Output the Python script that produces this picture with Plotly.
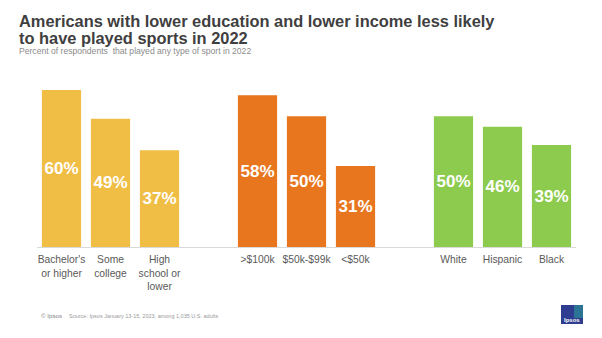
import plotly.graph_objects as go

# ---- data ----
education_labels = ["Bachelor's<br>or higher", "Some<br>college", "High<br>school or<br>lower"]
education_values = [60, 49, 37]
income_labels = [">$100k", "$50k-$99k", "<$50k"]
income_values = [58, 50, 31]
race_labels = ["White", "Hispanic", "Black"]
race_values = [50, 46, 39]

groups = [
    (education_labels, education_values, "#F0BD45"),
    (income_labels, income_values, "#E8761F"),
    (race_labels, race_values, "#8DCB4E"),
]

W, H = 602, 338
ML, MR, MT, MB = 37, 26, 77, 91
PW, PH = W - ML - MR, H - MT - MB


def px_x(px):
    return (px - ML) / PW


def px_y(py):
    return (H - MB - py) / PH


fig = go.Figure()
tickvals, ticktext = [], []
for g, (labels, values, color) in enumerate(groups):
    xs = [g * 4 + i for i in range(len(values))]
    tickvals += xs
    ticktext += labels
    fig.add_trace(go.Bar(
        x=xs, y=values, marker=dict(color=color, line=dict(width=0)),
        width=0.8,
        text=[f"{v}%" for v in values], textposition="inside",
        insidetextanchor="middle", textangle=0, constraintext="none",
        textfont=dict(family="Arial, Liberation Sans, sans-serif", size=17, color="white", weight="bold"),
        hoverinfo="skip", showlegend=False,
    ))

fig.update_layout(
    width=W, height=H,
    margin=dict(l=ML, r=MR, t=MT, b=MB),
    paper_bgcolor="white", plot_bgcolor="white",
    font=dict(family="Arial, Liberation Sans, sans-serif"),
    bargap=0.2,
    uniformtext=dict(mode=False),
    xaxis=dict(
        range=[-0.5, 10.5], tickmode="array", tickvals=tickvals, ticktext=ticktext,
        showgrid=False, zeroline=False, showline=True, linecolor="#D9D9D9", linewidth=1,
        ticks="", ticklabelstandoff=3,
        tickfont=dict(size=10.3, color="#595959"), fixedrange=True,
    ),
    yaxis=dict(range=[0, 65], visible=False, fixedrange=True),
)

anns = [
    dict(text="<b>Americans with lower education and lower income less likely</b>", px=17, py=26, size=16.4, color="#3F3F3F"),
    dict(text="<b>to have played sports in 2022</b>", px=17, py=43, size=16.4, color="#3F3F3F"),
    dict(text="Percent of respondents  that played any type of sport in 2022", px=17, py=54, size=8.6, color="#8C8C8C"),
    dict(text="© Ipsos", px=39, py=318, size=6.2, color="#7F7F7F"),
    dict(text="Source: Ipsos January 13-15, 2023, among 1,035 U.S. adults", px=67, py=318, size=5.5, color="#9A9A9A"),
]
for a in anns:
    fig.add_annotation(
        text=a["text"], xref="paper", yref="paper", x=px_x(a["px"]), y=px_y(a["py"]),
        xanchor="left", yanchor="bottom", showarrow=False,
        font=dict(size=a["size"], color=a["color"]), yshift=-0.3 * a["size"] - 1,
    )

# Ipsos logo
fig.add_shape(type="rect", xref="paper", yref="paper",
              x0=px_x(561), x1=px_x(583), y0=px_y(324), y1=px_y(305),
              fillcolor="#2E3D8F", line=dict(width=0))
fig.add_shape(type="rect", xref="paper", yref="paper",
              x0=px_x(574), x1=px_x(583), y0=px_y(318), y1=px_y(305),
              fillcolor="#2A9A9B", line=dict(width=0), opacity=0.6)
fig.add_annotation(text="<b>Ipsos</b>", xref="paper", yref="paper",
                   x=px_x(572), y=px_y(320), xanchor="center", yanchor="middle",
                   showarrow=False, font=dict(size=6, color="white"))

fig.write_html("out.html")
